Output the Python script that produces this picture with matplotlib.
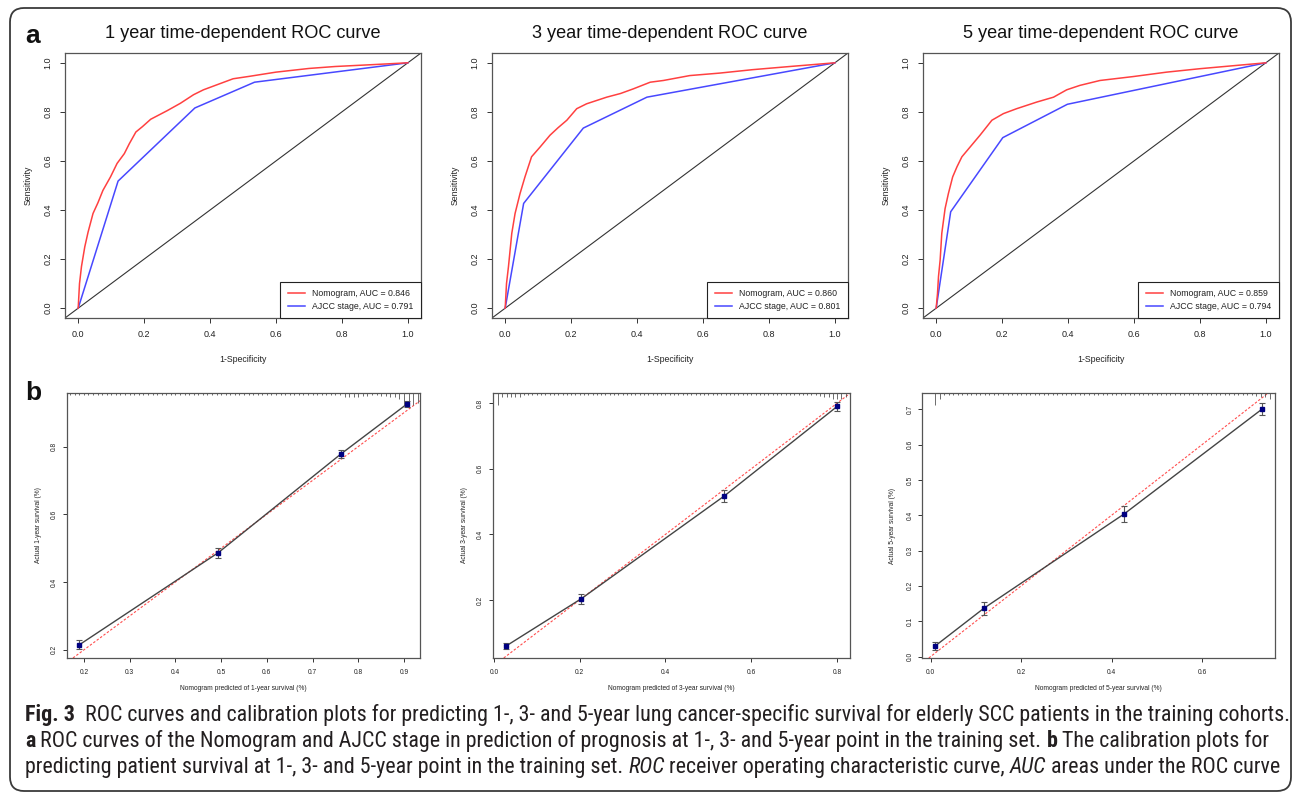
import numpy as np
import matplotlib
matplotlib.use("Agg")
import matplotlib.pyplot as plt
import matplotlib.transforms as mtrans
from matplotlib import font_manager
from matplotlib.patches import FancyBboxPatch

# ---------------------------------------------------------------- data
years = ["1", "3", "5"]
auc_nomogram = [0.846, 0.860, 0.859]
auc_ajcc = [0.791, 0.801, 0.794]

# time-dependent ROC curves (1-specificity, sensitivity)
nomo_fpr_1 = [0, 0.004, 0.01, 0.02, 0.03, 0.045, 0.06, 0.075, 0.098, 0.118, 0.14, 0.155, 0.175, 0.195,
              0.22, 0.27, 0.31, 0.35, 0.38, 0.42, 0.47, 0.52, 0.6, 0.7, 0.78, 0.9, 1.0]
nomo_tpr_1 = [0, 0.1, 0.17, 0.25, 0.31, 0.386, 0.43, 0.48, 0.535, 0.59, 0.63, 0.67, 0.718, 0.74,
              0.77, 0.805, 0.835, 0.87, 0.89, 0.91, 0.935, 0.945, 0.962, 0.977, 0.985, 0.993, 1.0]
ajcc_fpr_1 = [0, 0.121, 0.354, 0.535, 1.0]
ajcc_tpr_1 = [0, 0.518, 0.816, 0.921, 1.0]

nomo_fpr_3 = [0, 0.004, 0.01, 0.02, 0.03, 0.045, 0.06, 0.08, 0.106, 0.136, 0.16, 0.187, 0.217, 0.247,
              0.308, 0.35, 0.389, 0.44, 0.48, 0.56, 0.65, 0.75, 0.864, 1.0]
nomo_tpr_3 = [0, 0.1, 0.17, 0.305, 0.386, 0.467, 0.535, 0.617, 0.657, 0.705, 0.735, 0.766, 0.813, 0.833,
              0.86, 0.875, 0.894, 0.921, 0.928, 0.948, 0.958, 0.972, 0.985, 1.0]
ajcc_fpr_3 = [0, 0.056, 0.237, 0.43, 1.0]
ajcc_tpr_3 = [0, 0.427, 0.734, 0.86, 1.0]

nomo_fpr_5 = [0, 0.004, 0.007, 0.012, 0.017, 0.027, 0.037, 0.05, 0.063, 0.078, 0.103, 0.133, 0.169,
              0.204, 0.244, 0.305, 0.356, 0.396, 0.436, 0.497, 0.598, 0.699, 0.8, 0.9, 1.0]
nomo_tpr_5 = [0, 0.06, 0.129, 0.196, 0.305, 0.406, 0.467, 0.535, 0.576, 0.617, 0.657, 0.705, 0.766,
              0.793, 0.813, 0.84, 0.86, 0.89, 0.908, 0.928, 0.944, 0.962, 0.976, 0.988, 1.0]
ajcc_fpr_5 = [0, 0.044, 0.202, 0.398, 1.0]
ajcc_tpr_5 = [0, 0.393, 0.695, 0.831, 1.0]

# calibration: mean predicted vs. observed survival, with error half-widths
cal_pred_1 = [0.190, 0.494, 0.762, 0.906]
cal_obs_1 = [0.215, 0.487, 0.778, 0.925]
cal_err_1 = [0.013, 0.015, 0.011, 0.008]

cal_pred_3 = [0.029, 0.204, 0.537, 0.800]
cal_obs_3 = [0.060, 0.204, 0.517, 0.790]
cal_err_3 = [0.010, 0.015, 0.018, 0.013]

cal_pred_5 = [0.010, 0.118, 0.428, 0.733]
cal_obs_5 = [0.030, 0.137, 0.404, 0.701]
cal_err_5 = [0.012, 0.018, 0.023, 0.018]

# spike histograms of predicted survival (relative counts per 0.01 bin)
rug_first_1 = 0.17
rug_counts_1 = [1, 1, 1, 1, 1, 1, 1, 1, 1, 1, 1, 1, 1, 1, 1, 1, 1, 1, 1, 1,
                1, 1, 1, 1, 1, 1, 1, 1, 1, 1, 1, 1, 1, 1, 1, 1, 1, 1, 1, 1,
                1, 1, 1, 1, 1, 1, 1, 1, 1, 1, 1, 1, 1, 1, 1, 1, 1, 1, 1, 1,
                2, 2, 2, 2, 1.5, 1.5, 1, 1, 1.5, 1.5, 2, 2,
                3, 6, 6, 6, 5]
rug_first_3 = 0.01
rug_counts_3 = [6, 2, 2, 2, 2, 2,
                1, 1, 1, 1, 1, 1, 1, 1, 1, 1, 1, 1, 1, 1, 1, 1, 1, 1, 1, 1, 1, 1, 1,
                1, 1, 1, 1, 1, 1, 1, 1, 1, 1, 1, 1, 1, 1, 1, 1, 1, 1, 1, 1, 1, 1, 1,
                1, 1, 1, 1, 1, 1, 1, 1, 1, 1, 1, 1, 1, 1, 1, 1, 1, 1, 1, 1, 1, 1, 1,
                1.5, 2, 2, 3, 3, 3, 2]
rug_first_5 = 0.01
rug_counts_5 = [6, 3,
                1, 1, 1, 1, 1, 1, 1, 1, 1, 1, 1, 1, 1, 1, 1, 1, 1, 1, 1, 1, 1, 1, 1,
                1, 1, 1, 1, 1, 1, 1, 1, 1, 1, 1, 1, 1, 1, 1, 1, 1, 1, 1, 1, 1, 1, 1,
                1, 1, 1, 1, 1, 1, 1, 1, 1, 1, 1, 1, 1, 1, 1, 1, 1, 1, 1, 1, 1, 1, 1,
                1.5, 2, 2, 3, 2]

cal_ticks_x = [[0.2, 0.3, 0.4, 0.5, 0.6, 0.7, 0.8, 0.9], [0.0, 0.2, 0.4, 0.6, 0.8], [0.0, 0.2, 0.4, 0.6]]
cal_ticks_y = [[0.2, 0.4, 0.6, 0.8], [0.2, 0.4, 0.6, 0.8], [0.0, 0.1, 0.2, 0.3, 0.4, 0.5, 0.6, 0.7]]
cal_xlims = [(0.163, 0.935), (-0.002, 0.830), (-0.019, 0.761)]
cal_ylims = [(0.176, 0.958), (0.023, 0.831), (-0.004, 0.746)]

caption_lines = [
    [("Fig. 3", "bold", "normal"),
     ("  ROC curves and calibration plots for predicting 1-, 3- and 5-year lung cancer-specific "
      "survival for elderly SCC patients in the training cohorts.", "normal", "normal")],
    [("a", "bold", "normal"),
     (" ROC curves of the Nomogram and AJCC stage in prediction of prognosis at 1-, 3- and 5-year "
      "point in the training set. ", "normal", "normal"),
     ("b", "bold", "normal"),
     (" The calibration plots for", "normal", "normal")],
    [("predicting patient survival at 1-, 3- and 5-year point in the training set. ", "normal", "normal"),
     ("ROC", "normal", "italic"),
     (" receiver operating characteristic curve, ", "normal", "normal"),
     ("AUC", "normal", "italic"),
     (" areas under the ROC curve", "normal", "normal")],
]

# ---------------------------------------------------------------- fonts
available = {f.name for f in font_manager.fontManager.ttflist}
PLOT_FONT = "Liberation Sans" if "Liberation Sans" in available else "DejaVu Sans"
CAPTION_FONT = next((n for n in ["Liberation Sans Narrow", "Roboto Condensed", "Open Sans Condensed",
                                 "Liberation Sans"] if n in available), "DejaVu Sans")
plt.rcParams["font.family"] = [PLOT_FONT, "DejaVu Sans"]

# ---------------------------------------------------------------- figure
W, H = 1295, 796
fig = plt.figure(figsize=(W / 100, H / 100), dpi=100)
fig.patch.set_facecolor("white")

# full-figure overlay in pixel units (y downwards) for frame, labels and caption
bg = fig.add_axes([0, 0, 1, 1], zorder=-10)
bg.set_xlim(0, W)
bg.set_ylim(H, 0)
bg.axis("off")

frame = FancyBboxPatch((10, 8), 1281, 783, boxstyle="round,pad=0,rounding_size=14",
                       fill=False, edgecolor="#3a3a3a", linewidth=1.3, clip_on=False)
bg.add_patch(frame)

TXT = "#222222"
SPINE = "#555555"
RED = "#ff4040"
BLUE = "#4848ff"


def rect(left, top, right, bottom):
    return [left / W, 1 - bottom / H, (right - left) / W, (bottom - top) / H]


roc_boxes = [(65, 53, 421, 318), (492, 53, 848, 318), (923, 53, 1279, 318)]
cal_boxes = [(67, 393, 420, 658), (493, 393, 850, 658), (922, 393, 1275, 658)]

roc_curves = [
    (nomo_fpr_1, nomo_tpr_1, ajcc_fpr_1, ajcc_tpr_1),
    (nomo_fpr_3, nomo_tpr_3, ajcc_fpr_3, ajcc_tpr_3),
    (nomo_fpr_5, nomo_tpr_5, ajcc_fpr_5, ajcc_tpr_5),
]

for i, (box, curves) in enumerate(zip(roc_boxes, roc_curves)):
    ax = fig.add_axes(rect(*box))
    nf, nt, af, at = curves
    ax.axline((0, 0), slope=1, color="#333333", lw=0.8, zorder=1)
    ax.plot(nf, nt, color=RED, lw=1.1, zorder=3,
            label=f"Nomogram, AUC = {auc_nomogram[i]:.3f}")
    ax.plot(af, at, color=BLUE, lw=1.1, zorder=2,
            label=f"AJCC stage, AUC = {auc_ajcc[i]:.3f}")
    ax.set_xlim(-0.04, 1.04)
    ax.set_ylim(-0.04, 1.04)
    ticks = [0.0, 0.2, 0.4, 0.6, 0.8, 1.0]
    ax.set_xticks(ticks)
    ax.set_xticklabels([f"{t:.1f}" for t in ticks])
    ax.set_yticks(ticks)
    ax.set_yticklabels([f"{t:.1f}" for t in ticks], rotation=90, va="center")
    ax.tick_params(length=3.3, width=0.7, labelsize=6.5, pad=5.5, color="#333333", labelcolor=TXT)
    for s in ax.spines.values():
        s.set_color(SPINE)
        s.set_linewidth(0.9)
    leg = ax.legend(loc="lower right", borderaxespad=0, fancybox=False, fontsize=6.3,
                    handlelength=2.0, handletextpad=0.8, borderpad=0.85, labelspacing=0.37,
                    framealpha=1)
    leg.get_frame().set_edgecolor("#222222")
    leg.get_frame().set_linewidth(0.8)
    for t in leg.get_texts():
        t.set_color(TXT)

    left, top, right, bottom = box
    cx = (left + right) / 2
    bg.text(cx, 38, f"{years[i]} year time-dependent ROC curve", fontsize=13.1,
            ha="center", va="baseline", color="#111111")
    bg.text(cx, 359, "1-Specificity", fontsize=6.3, ha="center", va="center", color=TXT)
    bg.text(left - 37, (top + bottom) / 2, "Sensitivity", fontsize=6.3, rotation=90,
            ha="center", va="center", color=TXT)

cal_sets = [
    (cal_pred_1, cal_obs_1, cal_err_1, rug_first_1, rug_counts_1),
    (cal_pred_3, cal_obs_3, cal_err_3, rug_first_3, rug_counts_3),
    (cal_pred_5, cal_obs_5, cal_err_5, rug_first_5, rug_counts_5),
]

for i, (box, cs) in enumerate(zip(cal_boxes, cal_sets)):
    pred, obs, err, rug_first, rug_counts = cs
    ax = fig.add_axes(rect(*box))
    ax.set_xlim(*cal_xlims[i])
    ax.set_ylim(*cal_ylims[i])
    ax.axline((0, 0), slope=1, color="#ff4d4d", lw=0.8, ls=(0, (2.2, 1.6)), zorder=1)
    ax.plot(pred, obs, color="#444444", lw=1.0, zorder=2)
    ax.errorbar(pred, obs, yerr=err, fmt="none", ecolor="#555555", elinewidth=0.8,
                capsize=2.0, capthick=0.8, zorder=3)
    ax.plot(pred, obs, ls="none", marker="s", ms=3.3, color="#000080", zorder=4)

    # spike histogram hanging from the top edge
    rug_x = [rug_first + 0.01 * k for k in range(len(rug_counts))]
    unit = 2.0 / (box[3] - box[1])
    trans = mtrans.blended_transform_factory(ax.transData, ax.transAxes)
    ax.vlines(rug_x, [1 - c * unit for c in rug_counts], 1, transform=trans,
              color="#555555", lw=0.6, clip_on=False, zorder=2)

    ax.set_xticks(cal_ticks_x[i])
    ax.set_xticklabels([f"{t:.1f}" for t in cal_ticks_x[i]])
    ax.set_yticks(cal_ticks_y[i])
    ax.set_yticklabels([f"{t:.1f}" for t in cal_ticks_y[i]], rotation=90, va="center")
    ax.tick_params(length=3.0, width=0.7, labelsize=4.8, color="#333333", labelcolor=TXT)
    ax.tick_params(axis="x", pad=4.6)
    ax.tick_params(axis="y", pad=3.3)
    for s in ax.spines.values():
        s.set_color(SPINE)
        s.set_linewidth(0.9)

    left, top, right, bottom = box
    cx = (left + right) / 2
    bg.text(cx, 688, f"Nomogram predicted of {years[i]}-year survival (%)", fontsize=4.8,
            ha="center", va="center", color=TXT)
    bg.text(left - 29, (top + bottom) / 2, f"Actual {years[i]}-year survival (%)", fontsize=4.8,
            rotation=90, ha="center", va="center", color=TXT)

# panel letters
bg.text(25, 43, "a", fontsize=19, fontweight="bold", ha="left", va="baseline", color="#111111")
bg.text(25, 400, "b", fontsize=19, fontweight="bold", ha="left", va="baseline", color="#111111")

# ---------------------------------------------------------------- caption
renderer = fig.canvas.get_renderer()
cap_family = [CAPTION_FONT, "DejaVu Sans"]


def run_width(txt, size, weight, style):
    probe = bg.text(0, 0, "|" + txt + "|", fontsize=size, fontweight=weight, fontstyle=style,
                    family=cap_family)
    w1 = probe.get_window_extent(renderer).width
    probe.set_text("||")
    w0 = probe.get_window_extent(renderer).width
    probe.remove()
    return w1 - w0


ref_size = 10.0
first_width = sum(run_width(t, ref_size, w, s) for t, w, s in caption_lines[0])
cap_size = ref_size * (1285 - 25) / first_width

for y, runs in zip([721, 747, 773], caption_lines):
    x = 25
    for txt, weight, style in runs:
        bg.text(x, y, txt, fontsize=cap_size, fontweight=weight, fontstyle=style,
                family=cap_family, ha="left", va="baseline", color="#231f20")
        x += run_width(txt, cap_size, weight, style)

fig.savefig("out.png", dpi=100, facecolor="white")
